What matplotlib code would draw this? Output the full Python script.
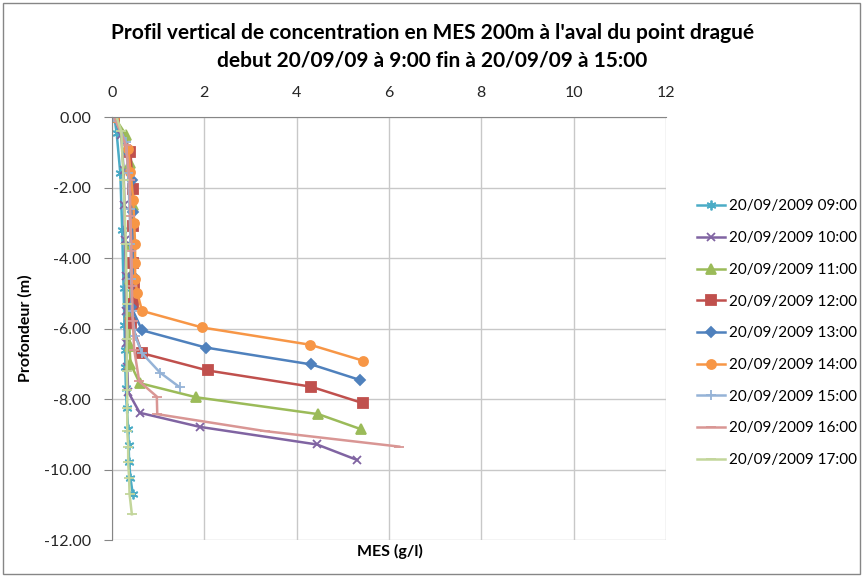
import matplotlib
matplotlib.use("Agg")
import matplotlib.pyplot as plt
from matplotlib.patches import Rectangle

plt.rcParams["font.family"] = ["Lato", "DejaVu Sans"]

# --- Donnees ---
labels = ["20/09/2009 09:00", "20/09/2009 10:00", "20/09/2009 11:00",
          "20/09/2009 12:00", "20/09/2009 13:00", "20/09/2009 14:00",
          "20/09/2009 15:00", "20/09/2009 16:00", "20/09/2009 17:00"]

mes_09 = [0.05, 0.10, 0.18, 0.22, 0.25, 0.27, 0.28, 0.29, 0.30, 0.32, 0.35, 0.36, 0.37, 0.40, 0.45]
prof_09 = [0, -0.45, -1.6, -3.2, -4.85, -5.9, -6.6, -7.1, -7.7, -8.25, -8.85, -9.3, -9.8, -10.25, -10.7]

mes_10 = [0.05, 0.20, 0.25, 0.27, 0.28, 0.30, 0.30, 0.30, 0.33, 0.35, 0.60, 1.90, 4.44, 5.31]
prof_10 = [0, -0.5, -1.5, -2.5, -3.5, -4.5, -5.5, -6.4, -7.1, -7.8, -8.39, -8.79, -9.29, -9.73]

mes_11 = [0.05, 0.30, 0.40, 0.45, 0.42, 0.40, 0.38, 0.38, 0.40, 0.60, 1.82, 4.47, 5.40]
prof_11 = [0, -0.5, -1.3, -2.5, -3.6, -4.6, -5.6, -6.5, -7.0, -7.55, -7.95, -8.43, -8.86]

mes_12 = [0.05, 0.40, 0.45, 0.45, 0.45, 0.48, 0.45, 0.42, 0.65, 2.07, 4.31, 5.44]
prof_12 = [0, -1.0, -2.05, -3.1, -4.15, -4.7, -5.3, -5.85, -6.7, -7.19, -7.65, -8.12]

mes_13 = [0.05, 0.33, 0.43, 0.46, 0.45, 0.45, 0.42, 0.65, 2.03, 4.32, 5.37]
prof_13 = [0, -0.95, -1.8, -2.7, -3.6, -4.5, -5.4, -6.05, -6.54, -7.02, -7.46]

mes_14 = [0.05, 0.35, 0.40, 0.46, 0.48, 0.50, 0.50, 0.50, 0.55, 0.65, 1.95, 4.29, 5.43]
prof_14 = [0, -0.9, -1.55, -2.35, -3.0, -3.6, -4.15, -4.6, -5.0, -5.5, -5.97, -6.46, -6.91]

mes_15 = [0.05, 0.30, 0.35, 0.38, 0.40, 0.42, 0.43, 0.50, 0.65, 1.04, 1.47]
prof_15 = [0, -0.7, -1.6, -2.6, -3.6, -4.6, -5.5, -6.2, -6.7, -7.25, -7.67]

mes_16 = [0.05, 0.30, 0.38, 0.40, 0.42, 0.43, 0.45, 0.48, 0.59, 0.97, 0.98, 3.31, 6.22]
prof_16 = [0, -0.8, -1.8, -2.8, -3.8, -4.8, -5.8, -6.6, -7.5, -7.93, -8.43, -8.91, -9.35]

mes_17 = [0.10, 0.20, 0.25, 0.30, 0.32, 0.32, 0.32, 0.33, 0.33, 0.33, 0.35, 0.35, 0.37, 0.38, 0.43]
prof_17 = [0, -0.4, -1.8, -3.6, -5.3, -6.3, -7.2, -7.75, -8.25, -8.9, -9.35, -9.8, -10.25, -10.7, -11.27]

series = [(mes_09, prof_09), (mes_10, prof_10), (mes_11, prof_11),
          (mes_12, prof_12), (mes_13, prof_13), (mes_14, prof_14),
          (mes_15, prof_15), (mes_16, prof_16), (mes_17, prof_17)]

couleurs = ["#4BACC6", "#8064A2", "#9BBB59", "#C0504D", "#4F81BD",
            "#F79646", "#95B3D7", "#D99694", "#C3D69B"]
marqueurs = [(6, 2, 0), "x", "^", "s", "D", "o", "+", "_", "_"]
tailles = [7, 6, 6.5, 6.5, 5, 6.5, 7, 7, 7]

# --- Figure ---
fig = plt.figure(figsize=(8.65, 5.77), dpi=100)
ax = fig.add_axes([0.1295, 0.0641, 0.6405, 0.7331])

for (x, y), lab, c, m, ms in zip(series, labels, couleurs, marqueurs, tailles):
    ax.plot(x, y, color=c, marker=m, markersize=ms, linewidth=1.8,
            markeredgewidth=1.3, label=lab)

ax.set_xlim(0, 12)
ax.set_ylim(-12, 0)
ax.set_xticks(range(0, 13, 2))
ax.set_yticks(range(-12, 1, 2))
ax.yaxis.set_major_formatter(matplotlib.ticker.FormatStrFormatter("%.2f"))
ax.xaxis.tick_top()
ax.tick_params(axis="x", length=0, labelsize=11.5, pad=12, colors="#262626")
ax.tick_params(axis="y", length=6, pad=9, labelsize=11.5, color="#868686", labelcolor="#262626")
ax.grid(True, color="#C8C8C8", linewidth=1)
ax.set_axisbelow(True)
for s in ["right", "bottom"]:
    ax.spines[s].set_visible(False)
for s in ["left", "top"]:
    ax.spines[s].set_color("#868686")

ax.set_ylabel("Profondeur (m)", fontsize=11.5, fontweight="bold", labelpad=8)
fig.text(0.451, 0.045, "MES (g/l)", fontsize=11.5, fontweight="bold",
         ha="center", va="center")

fig.text(0.5, 0.943, "Profil vertical de concentration en MES 200m à l'aval du point dragué",
         fontsize=15, fontweight="bold", ha="center", va="center")
fig.text(0.5, 0.895, "debut 20/09/09 à 9:00 fin à 20/09/09 à 15:00",
         fontsize=15, fontweight="bold", ha="center", va="center")

fig.legend(loc="upper left", bbox_to_anchor=(0.799, 0.665), frameon=False,
           fontsize=11, handlelength=1.8, handletextpad=0.25, labelspacing=1.16,
           borderaxespad=0)

fig.patches.append(Rectangle((0.004, 0.006), 0.99, 0.988, transform=fig.transFigure,
                             fill=False, edgecolor="#868686", linewidth=1))

fig.savefig("out.png", dpi=100)
